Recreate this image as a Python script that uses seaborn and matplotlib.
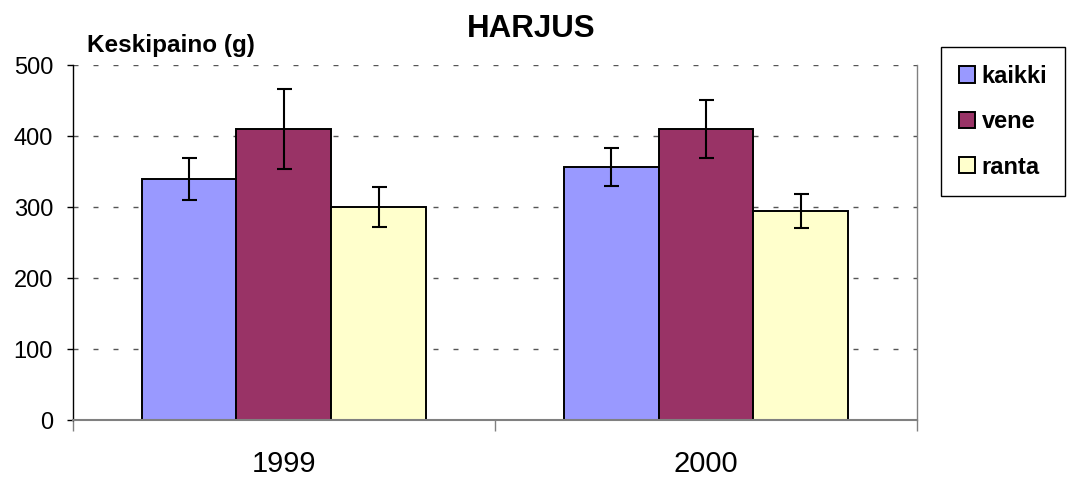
import matplotlib
matplotlib.use("Agg")
import matplotlib.pyplot as plt
from matplotlib.patches import Patch
import seaborn as sns
import pandas as pd
import numpy as np

# ---- data ----
years = ["1999", "2000"]
groups = ["kaikki", "vene", "ranta"]
kaikki = [340, 357]
vene = [410, 410]
ranta = [300, 295]
kaikki_err = [30, 27]
vene_err = [56, 41]
ranta_err = [28, 24]
colors = ["#9999FF", "#993366", "#FFFFCC"]

values = {"kaikki": kaikki, "vene": vene, "ranta": ranta}
errors = {"kaikki": kaikki_err, "vene": vene_err, "ranta": ranta_err}

rows = []
for g in groups:
    for y, v in zip(years, values[g]):
        rows.append({"year": y, "group": g, "value": v})
df = pd.DataFrame(rows)

sns.set_theme(style="white")
plt.rcParams["font.family"] = ["Liberation Sans", "DejaVu Sans"]
plt.rcParams["text.color"] = "black"
plt.rcParams["xtick.color"] = "black"
plt.rcParams["ytick.color"] = "black"
plt.rcParams["xtick.labelcolor"] = "black"
plt.rcParams["ytick.labelcolor"] = "black"

fig = plt.figure(figsize=(10.73, 4.82), dpi=100)
ax = fig.add_axes([0.0680, 0.1276, 0.7866, 0.7369])

sns.barplot(data=df, x="year", y="value", hue="group", order=years,
            hue_order=groups, palette=colors, width=0.675, gap=0,
            edgecolor="black", linewidth=1.4, errorbar=None, saturation=1,
            legend=False, ax=ax)

# error bars positioned at the library-drawn bars
for cont, g in zip(ax.containers, groups):
    xs = [p.get_x() + p.get_width() / 2 for p in cont.patches]
    hs = [p.get_height() for p in cont.patches]
    ax.errorbar(xs, hs, yerr=errors[g], fmt="none", ecolor="black",
                elinewidth=1.5, capsize=5.4, capthick=1.5, zorder=5)

ax.set_xlim(-0.5, 1.5)
ax.set_ylim(0, 500)
ax.set_yticks([0, 100, 200, 300, 400, 500])
ax.set_xlabel("")
ax.set_ylabel("")

# gridlines
ax.set_axisbelow(True)
ax.yaxis.grid(True, color="#555555", linewidth=1.0, linestyle=(0, (3.6, 10.8)))
ax.xaxis.grid(False)

# spines
ax.spines["top"].set_visible(False)
ax.spines["left"].set_color("black")
ax.spines["left"].set_linewidth(1.0)
ax.spines["bottom"].set_color("#808080")
ax.spines["bottom"].set_linewidth(1.5)
ax.spines["right"].set_color("#808080")
ax.spines["right"].set_linewidth(1.0)

# ticks
ax.tick_params(axis="y", which="major", direction="out", length=4.3, width=1.0,
               color="black", pad=10, labelsize=17, left=True)
ax.tick_params(axis="x", which="major", length=0, pad=21, labelsize=21)
ax.set_xticks([-0.5, 0.5, 1.5], minor=True)
ax.tick_params(axis="x", which="minor", direction="out", length=8, width=1.0,
               color="#808080", bottom=True)

# texts
fig.text(0.4955, 1 - 37.3 / 482, "HARJUS", ha="center", va="baseline",
         fontsize=22.5, fontweight="bold")
fig.text(87 / 1073, 1 - 51.7 / 482, "Keskipaino (g)", ha="left", va="baseline",
         fontsize=17.5, fontweight="bold")

# legend
handles = [Patch(facecolor=c, edgecolor="black", linewidth=1.4) for c in colors]
leg = fig.legend(handles, groups, loc="upper left",
                 bbox_to_anchor=(941 / 1073, 1 - 47 / 482),
                 prop={"size": 17, "weight": "bold"},
                 handlelength=0.68, handleheight=0.68, handletextpad=0.3,
                 labelspacing=0.95, borderpad=0.75, borderaxespad=0,
                 fancybox=False, frameon=True, framealpha=1, edgecolor="black")
leg.get_frame().set_linewidth(1.0)

fig.savefig("out.png", dpi=100)
